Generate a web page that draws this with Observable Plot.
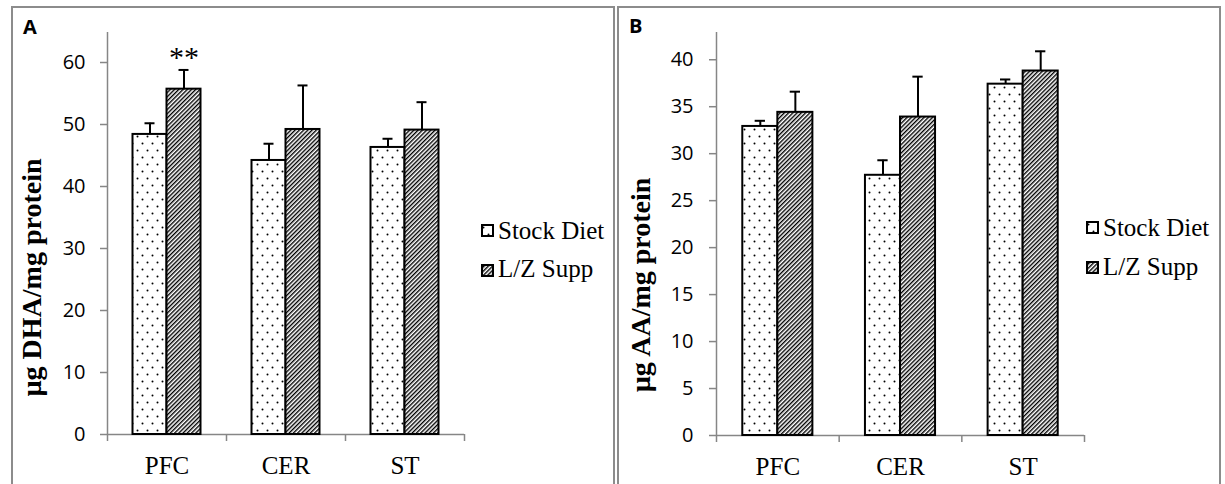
<!DOCTYPE html>
<html>
<head>
<meta charset="utf-8">
<script src="https://cdn.jsdelivr.net/npm/d3@7"></script>
<script src="https://cdn.jsdelivr.net/npm/@observablehq/plot@0.6"></script>
<style>
  body { margin: 0; background: #fff; }
  #wrap { position: relative; width: 1225px; height: 484px; overflow: hidden; background: #fff; }
  .panel { position: absolute; top: 6px; height: 540px; border: 2px solid #8c8c8c; box-sizing: border-box; }
  .chart { position: absolute; top: 0; }
  .letter { position: absolute; font-family: "Open Sans", sans-serif; font-weight: bold; font-size: 20px; line-height: 1; }
  .legtext { position: absolute; font-family: "Liberation Serif", serif; font-size: 25px; line-height: 1; white-space: nowrap; }
  .swatch { position: absolute; width: 13px; height: 13px; }
  #defs { position: absolute; width: 0; height: 0; }
</style>
</head>
<body>
<svg id="defs" width="0" height="0">
  <defs>
    <pattern id="dots" patternUnits="userSpaceOnUse" width="10" height="14">
      <rect width="10" height="14" fill="#fff"/>
      <circle cx="2.5" cy="3.5" r="1" fill="#000"/>
      <circle cx="7.5" cy="10.5" r="1" fill="#000"/>
    </pattern>
    <pattern id="hatch" patternUnits="userSpaceOnUse" width="3" height="3" patternTransform="rotate(45)">
      <rect width="3" height="3" fill="#fff"/>
      <line x1="0.7" y1="0" x2="0.7" y2="3" stroke="#000" stroke-width="1.4"/>
    </pattern>
  </defs>
</svg>
<div id="wrap">
  <div class="panel" style="left:11px;width:604px;"></div>
  <div class="panel" style="left:617px;width:604px;"></div>
  <div id="chartA" class="chart" style="left:0px;"></div>
  <div id="chartB" class="chart" style="left:612px;"></div>
  <div class="letter" style="left:23px;top:17px;">A</div>
  <div class="letter" style="left:629px;top:16px;">B</div>

  <svg class="swatch" style="left:481px;top:224px;"><rect x="1" y="1" width="11" height="11" fill="url(#dots)" stroke="#000" stroke-width="2"/></svg>
  <div class="legtext" style="left:498px;top:218px;">Stock Diet</div>
  <svg class="swatch" style="left:481px;top:264px;"><rect x="1" y="1" width="11" height="11" fill="url(#hatch)" stroke="#000" stroke-width="2"/></svg>
  <div class="legtext" style="left:498px;top:256px;">L/Z Supp</div>

  <svg class="swatch" style="left:1086px;top:221px;"><rect x="1" y="1" width="11" height="11" fill="url(#dots)" stroke="#000" stroke-width="2"/></svg>
  <div class="legtext" style="left:1103px;top:215px;">Stock Diet</div>
  <svg class="swatch" style="left:1086px;top:261px;"><rect x="1" y="1" width="11" height="11" fill="url(#hatch)" stroke="#000" stroke-width="2"/></svg>
  <div class="legtext" style="left:1103px;top:254px;">L/Z Supp</div>
</div>
<script>
// ---- data ----
const categories = ["PFC", "CER", "ST"];
const seriesNames = ["Stock Diet", "L/Z Supp"];

const dhaStock    = [48.4, 44.2, 46.3];
const dhaStockErr = [1.8, 2.7, 1.4];
const dhaSupp     = [55.7, 49.2, 49.1];
const dhaSuppErr  = [3.1, 7.1, 4.5];

const aaStock     = [32.9, 27.7, 37.4];
const aaStockErr  = [0.6, 1.6, 0.5];
const aaSupp      = [34.4, 33.9, 38.8];
const aaSuppErr   = [2.2, 4.3, 2.1];

const dhaTicks = [0, 10, 20, 30, 40, 50, 60];
const aaTicks  = [0, 5, 10, 15, 20, 25, 30, 35, 40];

const dhaTitle = "µg DHA/mg protein";
const aaTitle  = "µg AA/mg protein";

// significance marks: category, series, label
const dhaSignificance = [{category: "PFC", series: "L/Z Supp", label: "**"}];
const aaSignificance  = [];

const patternOf = {"Stock Diet": "url(#dots)", "L/Z Supp": "url(#hatch)"};

// ---- layout constants ----
const BAR = 1 / 3.5;   // bar width as a fraction of a category band (gap width 150%)
const CAP = 0.042;     // half-width of error-bar caps, in band units
const AXIS = "#868686";

function buildRows(stock, stockErr, supp, suppErr) {
  const out = [];
  categories.forEach((c, i) => {
    [[stock, stockErr], [supp, suppErr]].forEach(([v, e], s) => {
      const x1 = i + 0.5 + (s - 1) * BAR;
      out.push({category: c, series: seriesNames[s], value: v[i], err: e[i], x1, x2: x1 + BAR, xc: x1 + BAR / 2});
    });
  });
  return out;
}

function chart({rows, sig, ticks, yMax, title, width, marginLeft, marginRight, marginBottom, tickPadding, titleDy}) {
  const sigRows = sig.map(s => Object.assign({label: s.label},
    rows.find(r => r.category === s.category && r.series === s.series)));
  const svg = Plot.plot({
    width, height: 484,
    marginLeft, marginRight, marginTop: 32, marginBottom,
    style: {background: "transparent", overflow: "visible", fontFamily: "Liberation Serif", fontSize: "25px", color: "black"},
    x: {type: "linear", domain: [0, categories.length]},
    y: {domain: [0, yMax]},
    color: {type: "identity"},
    marks: [
      Plot.axisY({ticks, tickSize: 7, tickPadding, stroke: AXIS, strokeWidth: 1.5, fill: "black",
                  fontFamily: "Open Sans", fontSize: 20, label: null}),
      Plot.axisX({ticks: d3.range(categories.length + 1), tickSize: 7, tickFormat: () => "",
                  stroke: AXIS, strokeWidth: 1.5, label: null}),
      Plot.axisX({ticks: categories.map((c, i) => i + 0.5), tickSize: 0, tickPadding: 22,
                  tickFormat: t => categories[Math.floor(t)], fill: "black",
                  fontFamily: "Liberation Serif", fontSize: 25, label: null}),
      Plot.ruleX([0], {stroke: AXIS, strokeWidth: 1.5}),
      Plot.ruleY([0], {stroke: AXIS, strokeWidth: 1.5}),
      Plot.rect(rows, {x1: "x1", x2: "x2", y1: () => 0, y2: "value", fill: d => patternOf[d.series], stroke: "black", strokeWidth: 2}),
      Plot.ruleX(rows, {x: "xc", y1: "value", y2: d => d.value + d.err, stroke: "black", strokeWidth: 2}),
      Plot.ruleY(rows, {y: d => d.value + d.err, x1: d => d.xc - CAP, x2: d => d.xc + CAP, stroke: "black", strokeWidth: 2}),
      Plot.text(sigRows, {x: "xc", y: d => d.value + d.err, text: "label", dy: -13, fontSize: 30,
                          fontFamily: "Liberation Serif", fill: "black", ariaLabel: "significance"}),
      Plot.text([title], {text: d => d, frameAnchor: "left", textAnchor: "middle", rotate: -90, dx: -75, dy: titleDy,
                          fontWeight: "bold", fontSize: 28, fontFamily: "Liberation Serif", fill: "black"})
    ]
  });
  svg.querySelectorAll('g[aria-label="significance"] text').forEach(t => { t.style.letterSpacing = "3px"; });
  return svg;
}

document.getElementById("chartA").append(chart({
  rows: buildRows(dhaStock, dhaStockErr, dhaSupp, dhaSuppErr),
  sig: dhaSignificance, ticks: dhaTicks, yMax: 64.84, title: dhaTitle,
  width: 612, marginLeft: 107, marginRight: 148, marginBottom: 50, tickPadding: 15, titleDy: 44
}));

document.getElementById("chartB").append(chart({
  rows: buildRows(aaStock, aaStockErr, aaSupp, aaSuppErr),
  sig: aaSignificance, ticks: aaTicks, yMax: 42.9, title: aaTitle,
  width: 613, marginLeft: 104, marginRight: 141, marginBottom: 49, tickPadding: 16, titleDy: 51
}));
</script>
</body>
</html>
